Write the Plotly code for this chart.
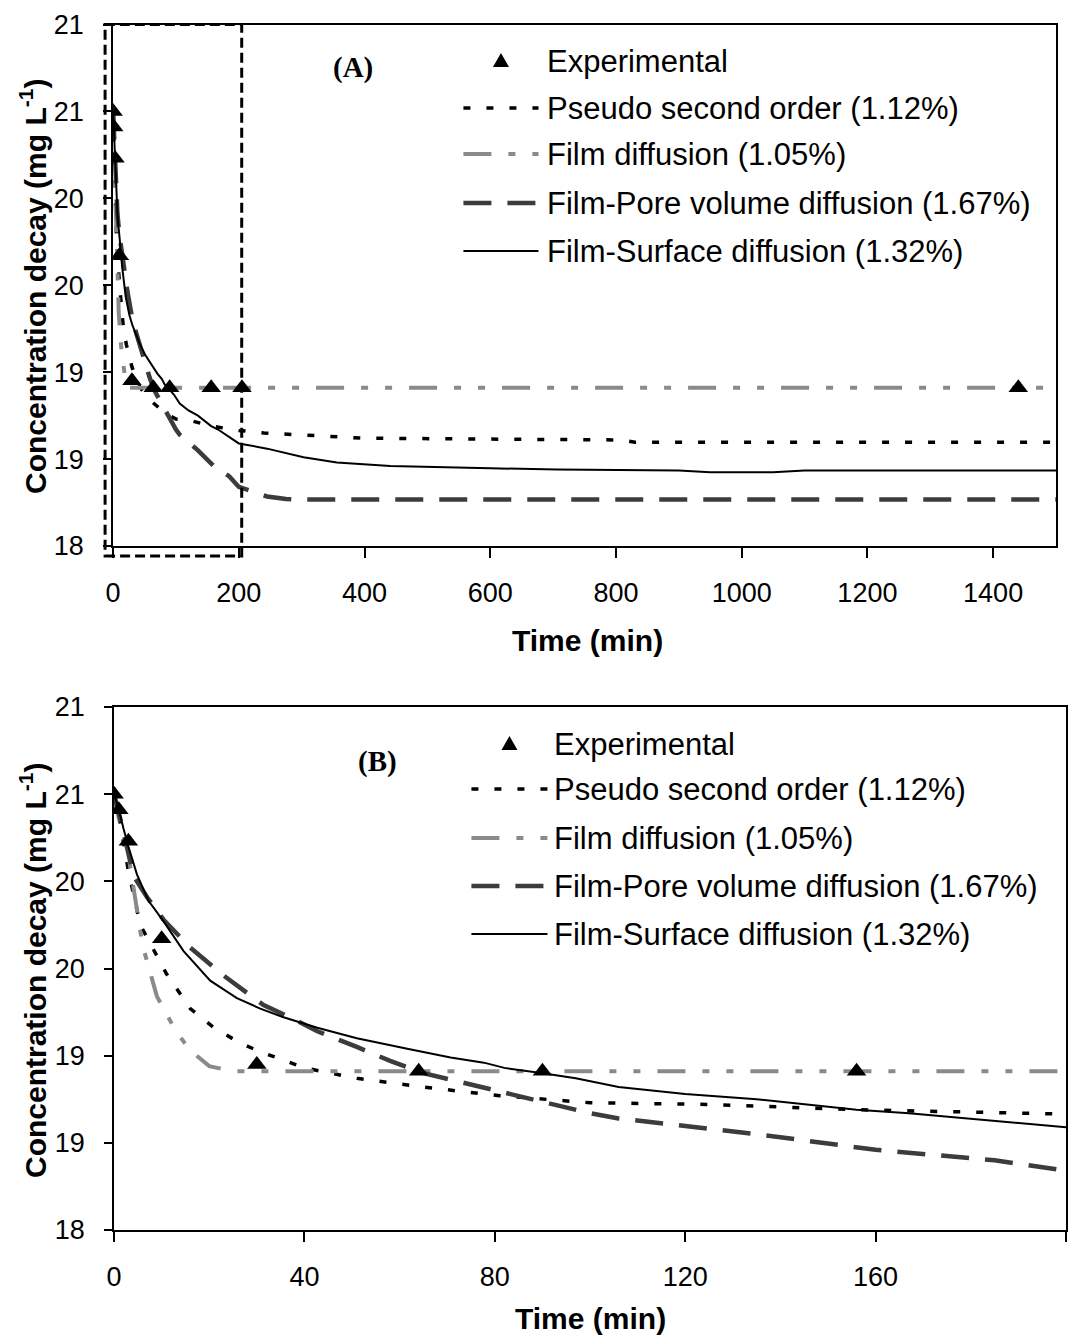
import plotly.graph_objects as go

FW, FH = 1071, 1345

# placement is given in target-image pixels; these map them onto the rendered page
OX, OY = 16, 22
SX, SY = 1062.0, 1315.0

# experimental points
exp_t = [0, 1, 3, 10, 30, 64, 90, 156, 205, 1440]
exp_c = [20.50, 20.41, 20.23, 19.67, 18.95, 18.91, 18.91, 18.91, 18.91, 18.91]

# pseudo second order
pso_t = [0, 1, 3, 5.5, 11, 16, 21, 26, 30, 40, 51, 65, 81, 100, 125, 156, 200, 240, 300, 350, 400, 600, 810, 830, 1500]
pso_c = [20.50, 20.38, 20.06, 19.75, 19.47, 19.27, 19.16, 19.08, 19.03, 18.93, 18.87, 18.82, 18.77, 18.73,
         18.72, 18.69, 18.665, 18.65, 18.64, 18.63, 18.62, 18.615, 18.61, 18.597, 18.597]

# film diffusion
fd_t = [0, 1, 3, 6, 9, 13, 16, 20, 25, 30, 1500]
fd_c = [20.50, 20.36, 20.15, 19.63, 19.34, 19.14, 19.03, 18.94, 18.91, 18.91, 18.91]

# film-pore volume diffusion
fp_t = [0, 1, 2, 4.1, 6.9, 10.4, 16, 23, 31.4, 37, 42.7, 51, 58, 65, 74, 83, 93, 100, 106, 135, 160, 185, 200,
        245, 275, 300, 1500]
fp_c = [20.50, 20.40, 20.28, 20.03, 19.91, 19.78, 19.62, 19.46, 19.29, 19.22, 19.14, 19.05, 18.97, 18.90, 18.84,
        18.78, 18.71, 18.67, 18.64, 18.55, 18.46, 18.40, 18.34, 18.285, 18.27, 18.267, 18.267]

# film-surface diffusion
fs_t = [0, 1, 2, 3, 4.8, 7.2, 10.4, 14.6, 20.2, 25.8, 30.7, 35.6, 42.7, 51, 61.6, 70.7, 77.7, 82, 89.7, 97,
        106, 120, 135, 156, 167, 188, 200, 245, 303, 356, 441, 600, 706, 900, 950, 1050, 1100, 1500]
fs_c = [20.50, 20.41, 20.30, 20.20, 20.04, 19.89, 19.77, 19.60, 19.43, 19.33, 19.27, 19.22, 19.16, 19.10, 19.04,
        18.99, 18.96, 18.93, 18.90, 18.87, 18.82, 18.78, 18.75, 18.69, 18.67, 18.62, 18.59, 18.56, 18.51, 18.48,
        18.46, 18.447, 18.44, 18.435, 18.424, 18.424, 18.434, 18.434]

y_ticks = [18, 18.5, 19, 19.5, 20, 20.5, 21]
y_labels = [str(int(v + 0.5)) for v in y_ticks]  # excel "0" number format

names = ["Experimental", "Pseudo second order (1.12%)", "Film diffusion (1.05%)",
         "Film-Pore volume diffusion (1.67%)", "Film-Surface diffusion (1.32%)"]

SANS = "Liberation Sans, Arial, sans-serif"

styles = {
    "pso": dict(color="black", width=3.5, dash="7px,16px"),
    "fd": dict(color="#8a8a8a", width=4, dash="28px,17px,7px,17px,7px,17px"),
    "fp": dict(color="#3c3c3c", width=4.5, dash="28px,16px"),
    "fs": dict(color="black", width=2),
}
series = [("pso", pso_t, pso_c, names[1]), ("fd", fd_t, fd_c, names[2]),
          ("fp", fp_t, fp_c, names[3]), ("fs", fs_t, fs_c, names[4])]


def px_x(x):
    return (x - OX) / SX


def px_y(y):
    return 1 - (y - OY) / SY


fig = go.Figure()

for xa, ya in [("x", "y"), ("x2", "y2")]:
    for key, t, c, name in series:
        fig.add_trace(go.Scatter(x=t, y=c, mode="lines", name=name, line=styles[key],
                                 xaxis=xa, yaxis=ya, showlegend=False))
    fig.add_trace(go.Scatter(x=exp_t, y=exp_c, mode="markers", name=names[0],
                             marker=dict(symbol="triangle-up", size=17, color="black"),
                             xaxis=xa, yaxis=ya, showlegend=False))

axis_common = dict(showline=True, linecolor="black", linewidth=2, mirror=True, showgrid=False,
                   zeroline=False, ticks="outside", tickcolor="black", tickwidth=1.5,
                   tickfont=dict(family=SANS, size=27, color="black"))

fig.update_layout(
    width=FW, height=FH,
    margin=dict(l=0, r=0, t=0, b=0),
    paper_bgcolor="white", plot_bgcolor="white",
    xaxis=dict(domain=[px_x(113), px_x(1055)], range=[0, 1500], tick0=0, dtick=200, anchor="y",
               ticklen=10, ticklabelstandoff=12, **axis_common),
    yaxis=dict(domain=[px_y(545), px_y(23.5)], range=[18, 21], tickvals=y_ticks, ticktext=y_labels,
               anchor="x", ticklen=8, ticklabelstandoff=14, **axis_common),
    xaxis2=dict(domain=[px_x(114), px_x(1065)], range=[0, 200], tick0=0, dtick=40, anchor="y2",
                ticklen=10, ticklabelstandoff=12, **axis_common),
    yaxis2=dict(domain=[px_y(1229), px_y(706)], range=[18, 21], tickvals=y_ticks, ticktext=y_labels,
                anchor="x2", ticklen=8, ticklabelstandoff=14, **axis_common),
)

# dashed box marking the zoomed region in panel A
fig.add_shape(type="rect", xref="paper", yref="paper",
              x0=px_x(105), x1=px_x(241.5), y0=px_y(555), y1=px_y(23.5),
              line=dict(color="black", width=3, dash="10px,5px"))

# axis titles
ytitle = "Concentration decay (mg L<sup>-1</sup>)"
for cy in [286, 970]:
    fig.add_annotation(text=ytitle, x=px_x(33), y=px_y(cy), xref="paper", yref="paper",
                       textangle=-90, showarrow=False, xanchor="center", yanchor="middle",
                       font=dict(family=SANS, size=30, color="black", weight="bold"))
for cx, cy in [(587, 640), (590, 1317)]:
    fig.add_annotation(text="Time (min)", x=px_x(cx), y=px_y(cy), xref="paper", yref="paper",
                       showarrow=False, xanchor="center", yanchor="middle",
                       font=dict(family=SANS, size=30, color="black", weight="bold"))

# panel labels
for lab, cx, cy in [("(A)", 353, 66), ("(B)", 377, 760)]:
    fig.add_annotation(text=lab, x=px_x(cx), y=px_y(cy), xref="paper", yref="paper",
                       showarrow=False, xanchor="center", yanchor="middle",
                       font=dict(family="Liberation Serif, Times New Roman, serif", size=29,
                                 color="black", weight="bold"))


def add_legend(x0, x1, xtext, rows):
    cx = (x0 + x1) / 2
    cy = rows[0]
    tri = "M {:.5f},{:.5f} L {:.5f},{:.5f} L {:.5f},{:.5f} Z".format(
        px_x(cx), px_y(cy - 8), px_x(cx + 8), px_y(cy + 6), px_x(cx - 8), px_y(cy + 6))
    fig.add_shape(type="path", path=tri, xref="paper", yref="paper",
                  fillcolor="black", line=dict(color="black", width=0))
    for (key, _, _, _), ry in zip(series, rows[1:]):
        fig.add_shape(type="line", xref="paper", yref="paper",
                      x0=px_x(x0), x1=px_x(x1), y0=px_y(ry), y1=px_y(ry), line=styles[key])
    for name, ry in zip(names, rows):
        fig.add_annotation(text=name, x=px_x(xtext), y=px_y(ry), xref="paper", yref="paper",
                           showarrow=False, xanchor="left", yanchor="middle",
                           font=dict(family=SANS, size=31, color="black"))


add_legend(463, 538, 545, [60, 107, 153, 202, 250])
add_legend(471, 547, 551, [743, 788, 837, 885, 933])

fig.write_html("out.html")
